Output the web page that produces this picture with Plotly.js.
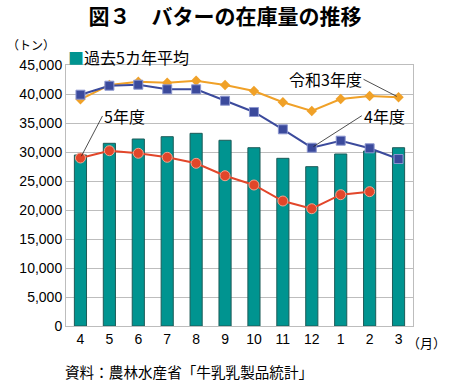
<!DOCTYPE html>
<html><head><meta charset="utf-8">
<script src="https://cdn.plot.ly/plotly-3.0.1.min.js"></script>
<style>html,body{margin:0;padding:0;background:#fff}</style>
</head><body>
<div id="chart" style="width:450px;height:386px"></div>
<script>
const months = ['4','5','6','7','8','9','10','11','12','1','2','3'];
const avg5 = [29480,31500,32240,32640,33220,32020,30740,28910,27470,29660,30170,30740];
const r3 = [39090,41550,42120,41950,42290,41550,40520,38570,37070,39140,39660,39430];
const r4 = [39880,41430,41600,40810,40810,38840,36900,33910,30740,31950,30640,28790];
const r5 = [28970,30220,29780,29090,28050,25910,24310,21550,20220,22640,23160];

const F = 'Liberation Sans, Arial, "Noto Sans CJK JP", sans-serif';
const J = '"Noto Sans CJK JP", sans-serif';

const traces = [
 {type:'bar', x:months, y:avg5, name:'過去5カ年平均', width:0.42,
  marker:{color:'#009490', line:{color:'#1d5b58', width:1}}, showlegend:false, hoverinfo:'skip'},
 {type:'scatter', mode:'lines+markers', x:months, y:r3, name:'令和3年度',
  line:{color:'#f0a128', width:2}, marker:{symbol:'diamond', size:8, color:'#f0a128'}, showlegend:false},
 {type:'scatter', mode:'lines+markers', x:months, y:r4, name:'4年度',
  line:{color:'#3b4a9c', width:2}, marker:{symbol:'square', size:9, color:'#3b4a9c', line:{color:'#8c96cf', width:1}}, showlegend:false},
 {type:'scatter', mode:'lines+markers', x:months.slice(0, r5.length), y:r5, name:'5年度',
  line:{color:'#e2462a', width:2}, marker:{symbol:'circle', size:10, color:'#e2462a', line:{color:'#f2a48f', width:1}}, showlegend:false}
];

const layout = {
 width:450, height:386,
 margin:{l:66, r:37, t:65, b:60},
 paper_bgcolor:'#fff', plot_bgcolor:'#fff',
 font:{family:F, size:14, color:'#000'},
 title:{text:'図３　バターの在庫量の推移', font:{family:J, size:21, color:'#000', weight:'bold'}, x:0.5, xanchor:'center', y:0.975, yanchor:'top'},
 xaxis:{type:'category', categoryorder:'array', categoryarray:months, range:[-0.5, 11.5], autorange:false, showgrid:false, showline:true, linecolor:'#bdbdbd', mirror:true, ticks:'', tickangle:0, tickfont:{size:14, family:F}, fixedrange:true},
 yaxis:{range:[0,45000], autorange:false, dtick:5000, tickformat:',', showgrid:true, gridcolor:'#bdbdbd', gridwidth:1, showline:true, linecolor:'#bdbdbd', mirror:true, ticks:'', tickfont:{size:14, family:F}, zeroline:false, fixedrange:true},
 annotations:[
  {xref:'paper', yref:'paper', x:-0.176, y:1.077, xanchor:'left', yanchor:'middle', text:'（トン）', showarrow:false, font:{family:J, size:12}},
  {xref:'paper', yref:'paper', x:0.0, y:1.03, xanchor:'left', yanchor:'middle', text:'<span style="color:#009490">■</span>過去5カ年平均', showarrow:false, font:{family:J, size:16}},
  {xref:'paper', yref:'paper', x:1.1, y:-0.065, xanchor:'right', yanchor:'middle', text:'（月）', showarrow:false, font:{family:J, size:13}},
  {xref:'paper', yref:'paper', x:-0.01, y:-0.175, xanchor:'left', yanchor:'middle', text:'資料：農林水産省「牛乳乳製品統計」', showarrow:false, font:{family:J, size:14.6}},
  {x:0, y:r5[0], xref:'x', yref:'y', text:'5年度', showarrow:true, arrowhead:0, arrowwidth:0.8, arrowcolor:'#222', ax:22, ay:-42, xanchor:'left', font:{family:J, size:16}, standoff:2},
  {x:8, y:r4[8], xref:'x', yref:'y', text:'4年度', showarrow:true, arrowhead:0, arrowwidth:0.8, arrowcolor:'#222', ax:50, ay:-32, xanchor:'left', font:{family:J, size:16}, standoff:2},
  {x:11, y:r3[11], xref:'x', yref:'y', text:'令和3年度', showarrow:true, arrowhead:0, arrowwidth:0.8, arrowcolor:'#222', ax:-35, ay:-18, xanchor:'right', font:{family:J, size:16}, standoff:2}
 ]
};
Plotly.newPlot('chart', traces, layout, {displayModeBar:false, staticPlot:true});
</script>
</body></html>
